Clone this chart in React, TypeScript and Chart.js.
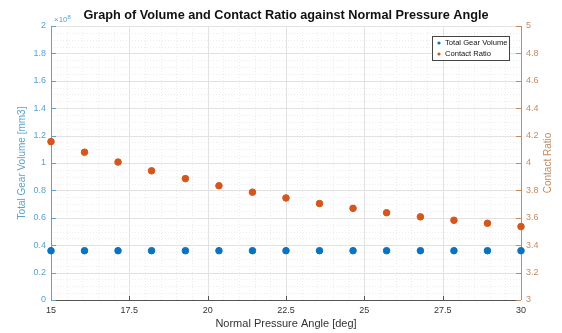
import React, { useEffect, useRef } from "react";
import { Chart, registerables } from "chart.js";

Chart.register(...registerables);

const angles = [15, 16.07, 17.14, 18.21, 19.29, 20.36, 21.43, 22.5, 23.57, 24.64, 25.71, 26.79, 27.86, 28.93, 30];
const volumes = [3.6e7, 3.6e7, 3.6e7, 3.6e7, 3.6e7, 3.6e7, 3.6e7, 3.6e7, 3.6e7, 3.6e7, 3.6e7, 3.6e7, 3.6e7, 3.6e7, 3.6e7];
const contactRatio = [4.156, 4.079, 4.007, 3.943, 3.886, 3.834, 3.787, 3.745, 3.704, 3.669, 3.637, 3.607, 3.582, 3.56, 3.536];

const xTicks = [15, 17.5, 20, 22.5, 25, 27.5, 30];
const volumeScale = 1e8;
const exponentLabel = "8";

const TITLE = "Graph of Volume and Contact Ratio against Normal Pressure Angle";
const X_TITLE = "Normal Pressure Angle [deg]";
const Y_TITLE = "Total Gear Volume [mm3]";
const Y1_TITLE = "Contact Ratio";
const SERIES = ["Total Gear Volume", "Contact Ratio"];

const FONT = "'Liberation Sans', Arial, sans-serif";
const BLUE_DOT = "#0b72bf";
const ORANGE_DOT = "#d4561d";
const BLUE_AXIS = "#5aa2cf";
const ORANGE_AXIS = "#c78a5e";
const DARK = "#333333";

const decorPlugin = {
  id: "decor",
  beforeDatasetsDraw(chart: any) {
    const { ctx, chartArea: a, scales } = chart;
    const x = scales.x, y = scales.y, y1 = scales.y1;
    ctx.save();
    // minor grid
    ctx.strokeStyle = "#ececec";
    ctx.lineWidth = 1;
    ctx.setLineDash([1, 2]);
    for (let v = 15; v <= 30.001; v += 0.5) {
      const px = Math.round(x.getPixelForValue(v)) + 0.5;
      ctx.beginPath(); ctx.moveTo(px, a.top); ctx.lineTo(px, a.bottom); ctx.stroke();
    }
    for (let v = 0; v <= 2.0001; v += 0.05) {
      const py = Math.round(y.getPixelForValue(v * volumeScale)) + 0.5;
      ctx.beginPath(); ctx.moveTo(a.left, py); ctx.lineTo(a.right, py); ctx.stroke();
    }
    // major grid
    ctx.setLineDash([]);
    ctx.strokeStyle = "#e2e2e2";
    xTicks.forEach((v) => {
      const px = Math.round(x.getPixelForValue(v)) + 0.5;
      ctx.beginPath(); ctx.moveTo(px, a.top); ctx.lineTo(px, a.bottom); ctx.stroke();
    });
    for (let i = 0; i <= 10; i++) {
      const py = Math.round(y.getPixelForValue(i * 0.2 * volumeScale)) + 0.5;
      ctx.beginPath(); ctx.moveTo(a.left, py); ctx.lineTo(a.right, py); ctx.stroke();
    }
    // axes lines
    ctx.lineWidth = 1;
    ctx.strokeStyle = "#555555";
    ctx.beginPath(); ctx.moveTo(a.left, a.bottom + 0.5); ctx.lineTo(a.right, a.bottom + 0.5); ctx.stroke();
    xTicks.forEach((v) => {
      const px = Math.round(x.getPixelForValue(v)) + 0.5;
      ctx.beginPath(); ctx.moveTo(px, a.bottom); ctx.lineTo(px, a.bottom - 4); ctx.stroke();
    });
    ctx.strokeStyle = BLUE_AXIS;
    ctx.beginPath(); ctx.moveTo(a.left + 0.5, a.top); ctx.lineTo(a.left + 0.5, a.bottom); ctx.stroke();
    for (let i = 0; i <= 10; i++) {
      const py = Math.round(y.getPixelForValue(i * 0.2 * volumeScale)) + 0.5;
      ctx.beginPath(); ctx.moveTo(a.left, py); ctx.lineTo(a.left + 5, py); ctx.stroke();
    }
    ctx.strokeStyle = ORANGE_AXIS;
    ctx.beginPath(); ctx.moveTo(a.right + 0.5, a.top); ctx.lineTo(a.right + 0.5, a.bottom); ctx.stroke();
    for (let i = 0; i <= 10; i++) {
      const py = Math.round(y1.getPixelForValue(3 + i * 0.2)) + 0.5;
      ctx.beginPath(); ctx.moveTo(a.right, py); ctx.lineTo(a.right - 5, py); ctx.stroke();
    }
    ctx.restore();
  },
  afterDraw(chart: any) {
    const { ctx, chartArea: a } = chart;
    ctx.save();
    // title
    ctx.fillStyle = "#111111";
    ctx.font = `bold 12.7px ${FONT}`;
    ctx.textAlign = "center";
    ctx.textBaseline = "middle";
    ctx.fillText(TITLE, 286, 15);
    // x title
    ctx.fillStyle = DARK;
    ctx.font = `11px ${FONT}`;
    ctx.fillText(X_TITLE, (a.left + a.right) / 2, 324);
    // y titles
    const cy = (a.top + a.bottom) / 2;
    ctx.font = `10px ${FONT}`;
    ctx.fillStyle = BLUE_AXIS;
    ctx.save(); ctx.translate(22, cy); ctx.rotate(-Math.PI / 2); ctx.fillText(Y_TITLE, 0, 0); ctx.restore();
    ctx.fillStyle = ORANGE_AXIS;
    ctx.save(); ctx.translate(548, cy); ctx.rotate(-Math.PI / 2); ctx.fillText(Y1_TITLE, 0, 0); ctx.restore();
    // exponent
    ctx.fillStyle = BLUE_AXIS;
    ctx.textAlign = "left";
    ctx.font = `8px ${FONT}`;
    ctx.fillText("\u00d710", a.left + 3, 20);
    const w = ctx.measureText("\u00d710").width;
    ctx.font = `6px ${FONT}`;
    ctx.fillText(exponentLabel, a.left + 3 + w, 17);
    // legend
    const lx = 432, ly = 36, lw = 77, lh = 24;
    ctx.fillStyle = "#ffffff";
    ctx.fillRect(lx, ly, lw, lh);
    ctx.strokeStyle = "#444444";
    ctx.lineWidth = 1;
    ctx.strokeRect(lx + 0.5, ly + 0.5, lw, lh);
    const colors = [BLUE_DOT, ORANGE_DOT];
    SERIES.forEach((s, i) => {
      const ry = ly + 7 + i * 11;
      ctx.fillStyle = colors[i];
      ctx.beginPath(); ctx.arc(lx + 7, ry, 1.6, 0, Math.PI * 2); ctx.fill();
      ctx.fillStyle = "#111111";
      ctx.font = `7.6px ${FONT}`;
      ctx.textBaseline = "middle";
      ctx.fillText(s, lx + 13, ry);
    });
    ctx.restore();
  },
};

function fmt(v: number) {
  return String(Math.round(v * 10) / 10);
}

export default function App() {
  const ref = useRef<HTMLCanvasElement | null>(null);
  useEffect(() => {
    document.body.style.margin = "0";
    const ctx = ref.current!.getContext("2d")!;
    const chart = new Chart(ctx, {
      type: "scatter",
      data: {
        datasets: [
          {
            label: SERIES[0],
            data: angles.map((a, i) => ({ x: a, y: volumes[i] })),
            yAxisID: "y",
            backgroundColor: BLUE_DOT,
            borderColor: BLUE_DOT,
            pointRadius: 3.3,
            clip: false as any,
          },
          {
            label: SERIES[1],
            data: angles.map((a, i) => ({ x: a, y: contactRatio[i] })),
            yAxisID: "y1",
            backgroundColor: ORANGE_DOT,
            borderColor: ORANGE_DOT,
            pointRadius: 3.3,
            clip: false as any,
          },
        ],
      },
      options: {
        animation: false,
        responsive: false,
        layout: { padding: { top: 26, left: 0, right: 0, bottom: 0 } },
        plugins: { legend: { display: false }, title: { display: false }, tooltip: { enabled: false } },
        scales: {
          x: {
            type: "linear",
            min: 15,
            max: 30,
            afterBuildTicks: (s: any) => { s.ticks = xTicks.map((v) => ({ value: v })); },
            afterFit: (s: any) => { s.height = 33; },
            ticks: { color: DARK, font: { size: 9, family: FONT }, padding: 5, maxRotation: 0, callback: (v: any) => String(v) },
            grid: { display: false, drawTicks: false, tickLength: 0 },
            border: { display: false },
          },
          y: {
            position: "left",
            min: 0,
            max: 2 * volumeScale,
            afterFit: (s: any) => { s.width = 51; },
            ticks: { stepSize: 0.2 * volumeScale, color: BLUE_AXIS, font: { size: 9, family: FONT }, padding: 5, callback: (v: any) => fmt(v / volumeScale) },
            grid: { display: false, drawTicks: false, tickLength: 0 },
            border: { display: false },
          },
          y1: {
            position: "right",
            min: 3,
            max: 5,
            afterFit: (s: any) => { s.width = 41; },
            ticks: { stepSize: 0.2, color: ORANGE_AXIS, font: { size: 9, family: FONT }, padding: 5, callback: (v: any) => fmt(v) },
            grid: { display: false, drawTicks: false, tickLength: 0 },
            border: { display: false },
          },
        },
      } as any,
      plugins: [decorPlugin],
    });
    return () => chart.destroy();
  }, []);
  return (
    <div style={{ width: 562, height: 333, background: "#ffffff" }}>
      <canvas ref={ref} width={562} height={333} style={{ display: "block" }} />
    </div>
  );
}
